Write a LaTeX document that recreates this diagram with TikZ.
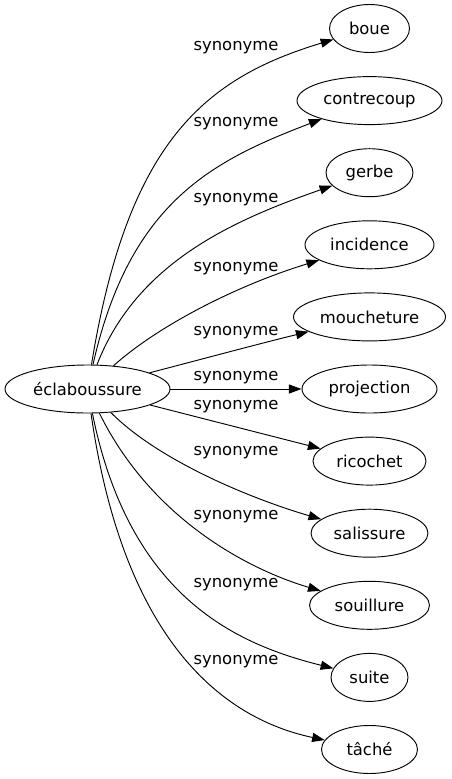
\documentclass[tikz,border=0pt]{standalone}
\usepackage{fontspec}
\setmainfont{DejaVu Sans}
\usetikzlibrary{shapes.geometric,arrows.meta}
\tikzstyle{word} = [ellipse, draw=black, line width=0.7pt, minimum height=36pt, inner sep=0pt, font=\fontsize{12.3}{14}\selectfont]
\tikzstyle{syn} = [draw=black, line width=0.7pt, -{Triangle[length=9.5pt,width=6.8pt]}]
\tikzstyle{rel} = [inner sep=0pt, font=\fontsize{12.3}{14}\selectfont]

\begin{document}
\begin{tikzpicture}[x=0.75pt, y=-0.75pt]%
			\useasboundingbox (0,0) rectangle (451,779);%
			% the word and its synonyms
			\node [word, minimum width=123.75pt] (ecl) at (87.5,389) {éclaboussure};
			\node [word, minimum width=60pt] (boue) at (369.5,28.5) {boue};
			\node [word, minimum width=108.75pt] (contrecoup) at (369.5,100.6) {contrecoup};
			\node [word, minimum width=65.25pt] (gerbe) at (369.5,172.7) {gerbe};
			\node [word, minimum width=96.75pt] (incidence) at (369.5,244.8) {incidence};
			\node [word, minimum width=114pt] (moucheture) at (369.5,316.9) {moucheture};
			\node [word, minimum width=101.25pt] (projection) at (369.5,389) {projection};
			\node [word, minimum width=84.75pt] (ricochet) at (369.5,461.1) {ricochet};
			\node [word, minimum width=87.75pt] (salissure) at (369.5,533.2) {salissure};
			\node [word, minimum width=90pt] (souillure) at (369.5,605.3) {souillure};
			\node [word, minimum width=57.75pt] (suite) at (369.5,677.4) {suite};
			\node [word, minimum width=72pt] (tache) at (369.5,749.5) {tâché};
			% edge labels
			\node [rel] (l1) at (236,48) {synonyme};
			\node [rel] (l2) at (236,124) {synonyme};
			\node [rel] (l3) at (236,200) {synonyme};
			\node [rel] (l4) at (236,269) {synonyme};
			\node [rel] (l5) at (236,333) {synonyme};
			\node [rel] (l6) at (236,378) {synonyme};
			\node [rel] (l7) at (236,407) {synonyme};
			\node [rel] (l8) at (236,453) {synonyme};
			\node [rel] (l9) at (236,517) {synonyme};
			\node [rel] (l10) at (236,585) {synonyme};
			\node [rel] (l11) at (236,662) {synonyme};
			% edges
			\draw [syn] (ecl) .. controls (128,140) and (206,78) .. (boue);
			\draw [syn] (ecl) .. controls (130,200) and (215,160) .. (contrecoup);
			\draw [syn] (ecl) .. controls (137,262) and (234,220) .. (gerbe);
			\draw [syn] (ecl) .. controls (159,325) and (238,285) .. (incidence);
			\draw [syn] (ecl) .. controls (210,357) and (262,343) .. (moucheture);
			\draw [syn] (ecl) -- (projection);
			\draw [syn] (ecl) -- (ricochet);
			\draw [syn] (ecl) .. controls (160,462) and (255,500) .. (salissure);
			\draw [syn] (ecl) .. controls (152,520) and (250,570) .. (souillure);
			\draw [syn] (ecl) .. controls (130,600) and (240,645) .. (suite);
			\draw [syn] (ecl) .. controls (125,650) and (230,720) .. (tache);
		\end{tikzpicture}
\end{document}
